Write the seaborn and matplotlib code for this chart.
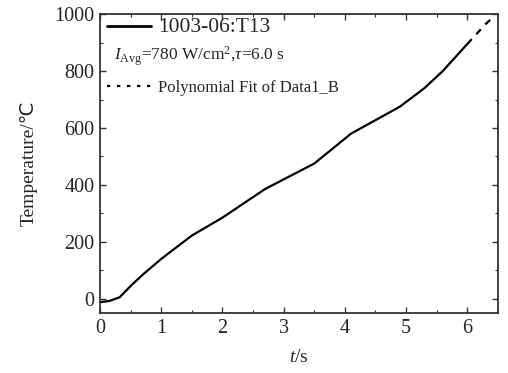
import matplotlib
matplotlib.use("Agg")
import matplotlib.pyplot as plt
import seaborn as sns
import pandas as pd
from matplotlib.lines import Line2D
from matplotlib.ticker import MultipleLocator

# data
t_meas = [0.0, 0.15, 0.32, 0.5, 0.7, 1.0, 1.5, 2.0, 2.7, 3.5, 4.1, 4.9, 5.3, 5.6, 6.0]
T_meas = [-12, -8, 5, 45, 85, 140, 222, 285, 386, 475, 580, 675, 740, 800, 895]
t_fit = [6.0, 6.15, 6.3, 6.4]
T_fit = [895, 930, 965, 985]

x_ticks = [0, 1, 2, 3, 4, 5, 6]
y_ticks = [0, 200, 400, 600, 800, 1000]

sns.set_style("ticks")
plt.rcParams["font.family"] = ["Liberation Serif", "DejaVu Serif"]
plt.rcParams["mathtext.fontset"] = "custom"
plt.rcParams["mathtext.rm"] = "Liberation Serif"
plt.rcParams["mathtext.it"] = "Liberation Serif:italic"

fig = plt.figure(figsize=(5.08, 3.73), dpi=100)
ax = fig.add_axes([0.197, 0.161, 0.783, 0.801])

df_m = pd.DataFrame({"t": t_meas, "T": T_meas})
df_f = pd.DataFrame({"t": t_fit, "T": T_fit})
sns.lineplot(data=df_m, x="t", y="T", ax=ax, color="black", lw=1.6)
sns.lineplot(data=df_f, x="t", y="T", ax=ax, color="black", lw=1.6,
             linestyle=(0, (3, 3)))

ax.set_xlim(0, 6.5)
ax.set_ylim(-50, 1000)
ax.set_xticks(x_ticks)
ax.set_yticks(y_ticks)
ax.xaxis.set_minor_locator(MultipleLocator(0.5))
ax.yaxis.set_minor_locator(MultipleLocator(100))
ax.tick_params(which="both", direction="in", top=True, right=True,
               labeltop=False, labelright=False, color="#333333")
ax.tick_params(which="major", length=4, width=1, labelsize=14.5, pad=4)
ax.tick_params(which="minor", length=2, width=0.8)
for s in ax.spines.values():
    s.set_linewidth(1.3)
    s.set_color("#333333")

ax.set_xlabel("$t$/s", fontsize=14, labelpad=8)
ax.set_ylabel("Temperature/\u2103", fontsize=14, labelpad=12,
              family=["Liberation Serif", "DejaVu Sans"])

handles = [Line2D([], [], color="black", lw=2),
           Line2D([], [], color="black", lw=1.6, linestyle=(0, (1.5, 3)))]
leg = ax.legend(handles, ["1003-06:T13", "Polynomial Fit of Data1_B"],
                loc="upper left", bbox_to_anchor=(0.01, 1.0),
                frameon=False, fontsize=12,
                handlelength=2.6, handletextpad=0.45, labelspacing=2.6,
                borderaxespad=0.0, borderpad=0.2)
leg.get_texts()[0].set_fontsize(15.5)
ax.text(0.035, 0.86, r"$I_{\rm Avg}$=780 W/cm$^2$,$\tau$=6.0 s",
        transform=ax.transAxes, fontsize=12.5, va="center", ha="left")

fig.savefig("out.png", dpi=100)
